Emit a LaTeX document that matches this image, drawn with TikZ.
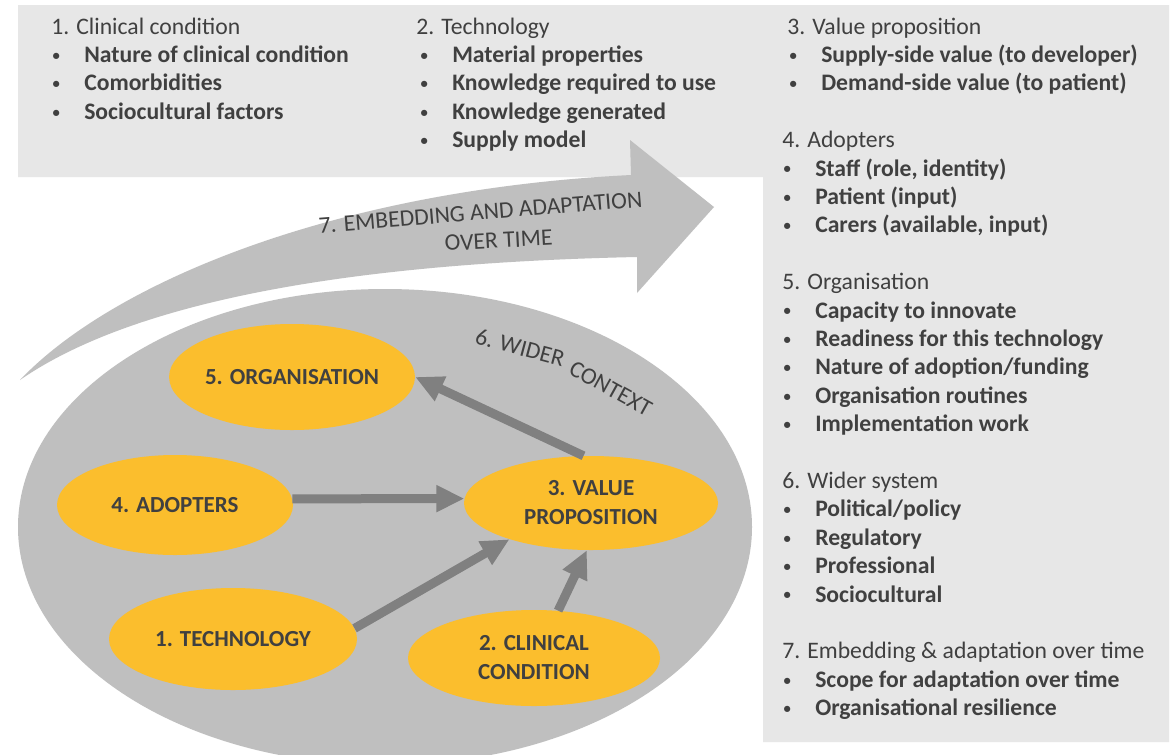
\documentclass[tikz,border=0pt]{standalone}
\usepackage{fontspec}
\setmainfont{Carlito}
\usetikzlibrary{arrows.meta,shapes.geometric}
\definecolor{panel}{RGB}{231,231,231}
\definecolor{band}{RGB}{191,191,191}
\definecolor{orangeY}{RGB}{251,190,45}
\definecolor{txt}{RGB}{64,64,64}
\definecolor{conn}{RGB}{128,128,128}
\newcommand\bl[1]{\makebox[24.75pt][l]{\hspace*{1pt}{\fontsize{11pt}{11pt}\selectfont\raisebox{1.6pt}{\textbullet}}}#1}
\newcommand\listfont{\fontsize{17.75pt}{21pt}\selectfont}
\begin{document}
\begin{tikzpicture}[x=0.75pt,y=-0.75pt,
 hdr/.style={anchor=base west, inner sep=0pt, text=txt, font=\listfont},
 item/.style={anchor=base west, inner sep=0pt, text=txt, font=\listfont\bfseries},
 blob/.style={ellipse, fill=orangeY, inner sep=0pt, text=txt, align=center,
   font=\fontsize{17.25pt}{21.75pt}\selectfont\bfseries},
 link/.style={draw=conn, line width=6.75pt, -{Triangle[length=21pt,width=19pt]}},
 bandtext/.style={text=txt, inner sep=0pt, anchor=base, font=\listfont}
]
\useasboundingbox (0,0) rectangle (1171,754);
\fill[white] (0,0) rectangle (1171,754);

% L-shaped panel
\fill[panel] (18,5) -- (1169,5) -- (1169,742) -- (763,742) -- (763,177) -- (18,177) -- cycle;

% wider context
\node[ellipse, fill=band, inner sep=0pt, minimum width=550.5pt, minimum height=357pt] (ctx) at (385,527) {};
\node[bandtext, rotate=-15] (ctx1) at (518,355) {6. WIDER};
\node[bandtext, rotate=-29] (ctx2) at (607,395) {CONTEXT};

% embedding arrow
\fill[band] (20,380) .. controls (110,285) and (330,190) .. (631,175)
  -- (630,140) -- (714,207) -- (637,293) -- (637,257)
  .. controls (400,262) and (150,290) .. (20,380) -- cycle;
\node[bandtext, rotate=4.6] (emb1) at (481,220) {7. EMBEDDING AND ADAPTATION};
\node[bandtext, rotate=3] (emb2) at (499,248) {OVER TIME};

% column 1
\node[hdr] (h1) at (51,34) {1. Clinical condition};
\node[item] (i1a) at (51,62.4) {\bl{Nature of clinical condition}};
\node[item] (i1b) at (51,90.8) {\bl{Comorbidities}};
\node[item] (i1c) at (51,119.2) {\bl{Sociocultural factors}};

% column 2
\node[hdr] (h2) at (416,34) {2. Technology};
\node[item] (i2a) at (419,62.4) {\bl{Material properties}};
\node[item] (i2b) at (419,90.8) {\bl{Knowledge required to use}};
\node[item] (i2c) at (419,119.2) {\bl{Knowledge generated}};
\node[item] (i2d) at (419,147.6) {\bl{Supply model}};

% column 3
\node[hdr] (h3) at (787,34) {3. Value proposition};
\node[item] (i3a) at (788,62.4) {\bl{Supply-side value (to developer)}};
\node[item] (i3b) at (788,90.8) {\bl{Demand-side value (to patient)}};

\node[hdr] (h4) at (782,147.6) {4. Adopters};
\node[item] (i4a) at (782,176) {\bl{Staff (role, identity)}};
\node[item] (i4b) at (782,204.4) {\bl{Patient (input)}};
\node[item] (i4c) at (782,232.8) {\bl{Carers (available, input)}};

\node[hdr] (h5) at (782,289.6) {5. Organisation};
\node[item] (i5a) at (782,318) {\bl{Capacity to innovate}};
\node[item] (i5b) at (782,346.4) {\bl{Readiness for this technology}};
\node[item] (i5c) at (782,374.8) {\bl{Nature of adoption/funding}};
\node[item] (i5d) at (782,403.2) {\bl{Organisation routines}};
\node[item] (i5e) at (782,431.6) {\bl{Implementation work}};

\node[hdr] (h6) at (782,488.4) {6. Wider system};
\node[item] (i6a) at (782,516.8) {\bl{Political/policy}};
\node[item] (i6b) at (782,545.2) {\bl{Regulatory}};
\node[item] (i6c) at (782,573.6) {\bl{Professional}};
\node[item] (i6d) at (782,602) {\bl{Sociocultural}};

\node[hdr] (h7) at (782,658.8) {7. Embedding \& adaptation over time};
\node[item] (i7a) at (782,687.2) {\bl{Scope for adaptation over time}};
\node[item] (i7b) at (782,715.6) {\bl{Organisational resilience}};

% domain ellipses
\node[blob, minimum width=180pt, minimum height=79.5pt] (org) at (292,377) {5. ORGANISATION};
\node[blob, minimum width=177pt, minimum height=75pt] (adopt) at (175,505) {4. ADOPTERS};
\node[blob, minimum width=190.5pt, minimum height=70.5pt] (value) at (591,503) {3. VALUE\\PROPOSITION};
\node[blob, minimum width=186pt, minimum height=76.5pt] (tech) at (233,639) {1. TECHNOLOGY};
\node[blob, minimum width=189pt, minimum height=72pt] (clin) at (534,658) {2. CLINICAL\\CONDITION};

% connectors
\draw[link] (adopt.3) -- (value.178.5);
\draw[link] (tech.5) -- (value.204);
\draw[link] (clin.63) -- (value.265);
\draw[link] (value.99) -- (org.east);
\end{tikzpicture}
\end{document}
